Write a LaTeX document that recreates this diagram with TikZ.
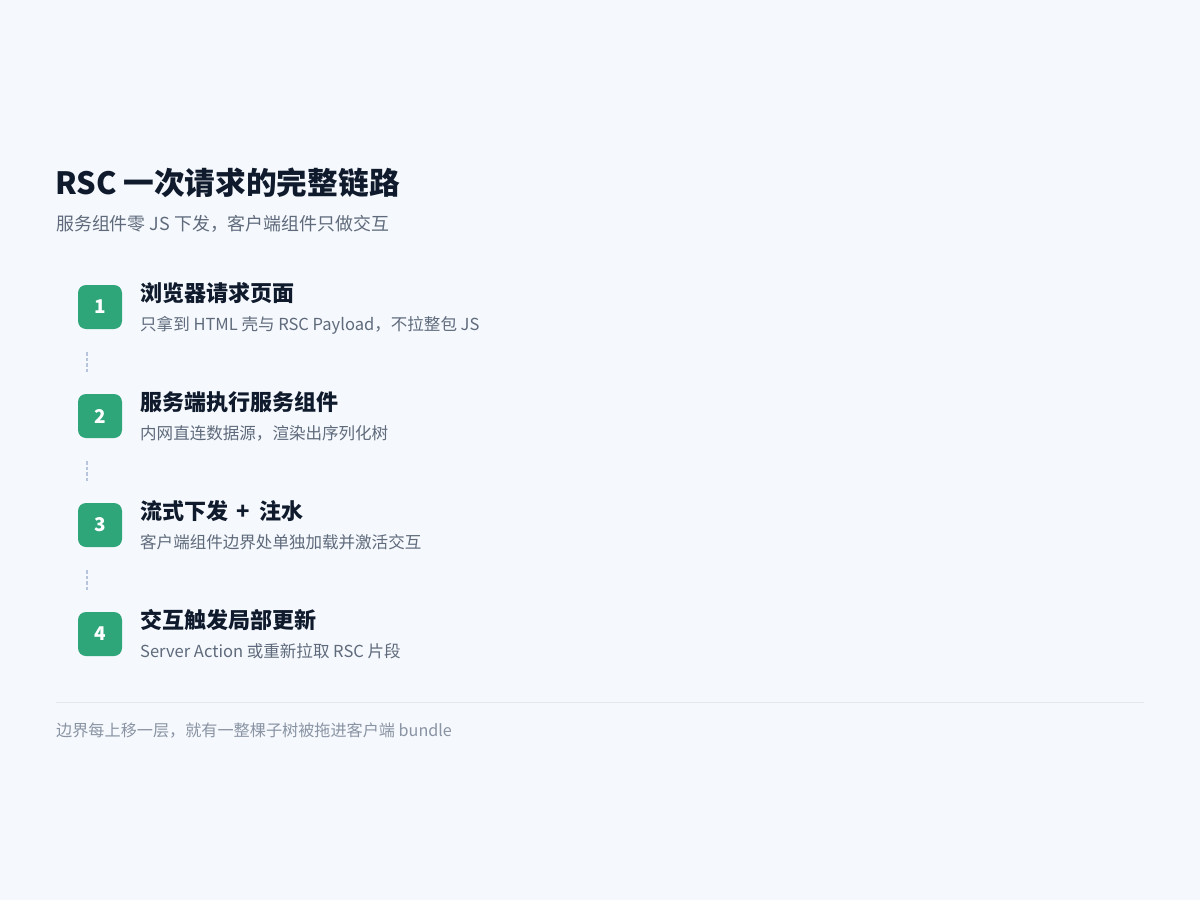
\documentclass[tikz,border=0pt]{standalone}
\usepackage{fontspec}
\setmainfont{Noto Sans CJK SC}
\definecolor{bgc}{HTML}{F5F8FC}
\definecolor{ink}{HTML}{0F1B2D}
\definecolor{subc}{HTML}{5F6B7C}
\definecolor{footc}{HTML}{8A94A4}
\definecolor{greenc}{HTML}{2EA67A}
\definecolor{linkc}{HTML}{B6C5DC}
\definecolor{rulec}{HTML}{E3E8EF}
\tikzset{
  badge/.style={fill=greenc, rounded corners=8bp, minimum width=44bp, minimum height=44bp, inner sep=0pt, text=white, font=\bfseries\fontsize{19}{19}\selectfont},
  steptitle/.style={anchor=base west, inner sep=0pt, text=ink, font=\bfseries\fontsize{22.1}{23}\selectfont},
  stepdesc/.style={anchor=base west, inner sep=0pt, text=subc, font=\fontsize{16.6}{17}\selectfont},
  linkline/.style={draw=linkc, line width=2.8bp, dash pattern=on 3.5bp off 2bp},
}
\begin{document}
\begin{tikzpicture}[x=1bp,y=-1bp]
\useasboundingbox[fill=bgc] (0,0) rectangle (1200,900);
\node[anchor=base west, inner sep=0pt, text=ink, font=\bfseries\fontsize{30.8}{31}\selectfont] (title) at (55,194) {RSC 一次请求的完整链路};
\node[anchor=base west, inner sep=0pt, text=subc, font=\fontsize{18}{18}\selectfont] (sub) at (56,230) {服务组件零 JS 下发，客户端组件只做交互};

\node[badge] (b1) at (100,307) {1};
\node[steptitle] (t1) at (140,301) {浏览器请求页面};
\node[stepdesc] (d1) at (140,330) {只拿到 HTML 壳与 RSC Payload，不拉整包 JS};

\node[badge] (b2) at (100,416) {2};
\node[steptitle] (t2) at (140,410) {服务端执行服务组件};
\node[stepdesc] (d2) at (140,439) {内网直连数据源，渲染出序列化树};

\node[badge] (b3) at (100,525) {3};
\node[steptitle] (t3) at (140,519) {流式下发 \,+\, 注水};
\node[stepdesc] (d3) at (140,548) {客户端组件边界处单独加载并激活交互};

\node[badge] (b4) at (100,634) {4};
\node[steptitle] (t4) at (140,628) {交互触发局部更新};
\node[stepdesc] (d4) at (140,657) {Server Action 或重新拉取 RSC 片段};

\coordinate (l1a) at (87,352); \coordinate (l1b) at (87,372);
\coordinate (l2a) at (87,461); \coordinate (l2b) at (87,481);
\coordinate (l3a) at (87,570); \coordinate (l3b) at (87,590);
\draw[linkline] (l1a) -- (l1b);
\draw[linkline] (l2a) -- (l2b);
\draw[linkline] (l3a) -- (l3b);

\coordinate (r1) at (56,702); \coordinate (r2) at (1144,702);
\draw[draw=rulec, line width=1bp] (r1) -- (r2);
\node[anchor=base west, inner sep=0pt, text=footc, font=\fontsize{16.2}{17}\selectfont] (foot) at (56,736) {边界每上移一层，就有一整棵子树被拖进客户端 bundle};
\end{tikzpicture}
\end{document}
